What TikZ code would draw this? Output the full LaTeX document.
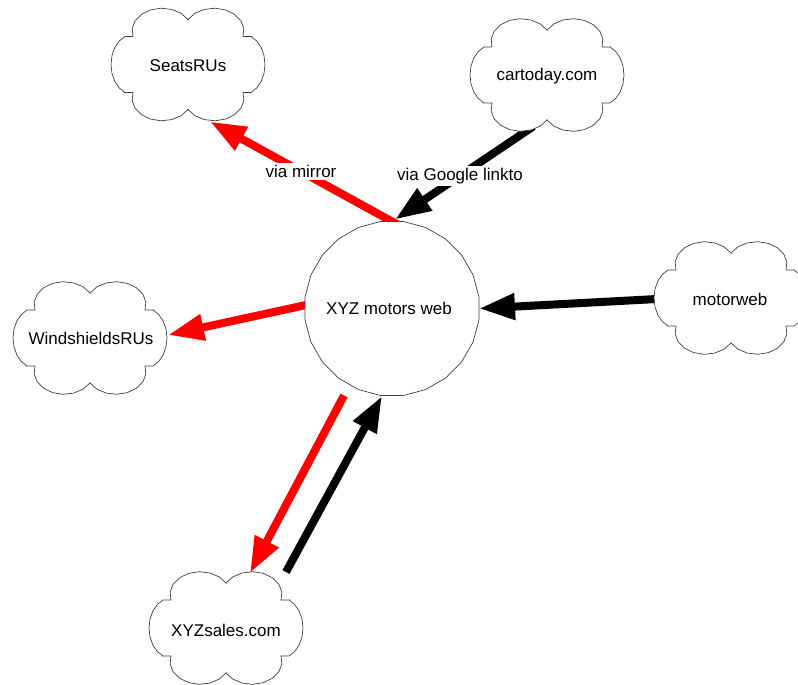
\documentclass[tikz,border=0pt]{standalone}
\usepackage{fontspec}
\setmainfont{Liberation Sans}
\usetikzlibrary{arrows.meta,calc,shapes.geometric}
\pgfdeclarelayer{background}
\pgfsetlayers{background,main}

\tikzset{
  outline/.style={draw=black!75, line width=0.7pt, fill=white},
  % cloud outline: two puffs on top and bottom, one on each side
  cloudshape/.pic={
    \path[outline]
      plot[samples=9, domain=-150.1:14.8] ({26+30*cos(\x)},{-33.8+22.5*sin(\x)})
      -- (63,-28)
      -- plot[samples=9, domain=-68.7:68.7] ({55+22*cos(\x)},{30.05*sin(\x)})
      -- (55,28)
      -- plot[samples=9, domain=-14.8:150.1] ({26+30*cos(\x)},{33.8+22.5*sin(\x)})
      -- plot[samples=9, domain=29.9:194.8] ({-26+30*cos(\x)},{33.8+22.5*sin(\x)})
      -- (-63,28)
      -- plot[samples=9, domain=111.3:248.7] ({-55+22*cos(\x)},{30.05*sin(\x)})
      -- (-55,-28)
      -- plot[samples=9, domain=165.2:330.1] ({-26+30*cos(\x)},{-33.8+22.5*sin(\x)})
      -- cycle;
  },
  txt/.style={font=\fontsize{17}{20}\selectfont, inner sep=0pt},
  hub/.style={regular polygon, regular polygon sides=24, minimum size=175.5pt,
    inner sep=0pt, outline},
  link/.style={line width=8pt, -{Triangle[length=36pt,width=25pt]}},
  redlink/.style={link, draw=red, fill=red},
  blacklink/.style={link, draw=black, fill=black},
  tag/.style={font=\fontsize{17}{20}\selectfont, fill=white, inner sep=2pt},
}

\begin{document}
\begin{tikzpicture}[x=1pt, y=-1pt]
  \useasboundingbox (0,0) rectangle (798,685);

  % positions of the sites
  \coordinate (seatsC) at (188,64.5);
  \coordinate (cartC)  at (547,75);
  \coordinate (windC)  at (90,338);
  \coordinate (motorC) at (731,298);
  \coordinate (salesC) at (226,628);

  % clouds with their names
  \pic at (seatsC) {cloudshape};
  \node[txt] (seats) at ($(seatsC)+(0,1.5)$) {SeatsRUs};
  \pic at (cartC) {cloudshape};
  \node[txt] (cart) at ($(cartC)+(0,1)$) {cartoday.com};
  \pic at (windC) {cloudshape};
  \node[txt] (wind) at ($(windC)+(1,0.5)$) {WindshieldsRUs};
  \pic at (motorC) {cloudshape};
  \node[txt] (motor) at ($(motorC)+(-1,1.5)$) {motorweb};
  \pic at (salesC) {cloudshape};
  \node[txt] (sales) at ($(salesC)+(0,2)$) {XYZsales.com};

  % central site
  \node[hub] (xyz) at (392,308.5) {};
  \node[txt] (xyzlabel) at ($(xyz)+(-3,0)$) {XYZ motors web};

  % links run underneath the shapes
  \begin{pgfonlayer}{background}
    \draw[redlink, shorten <=-10pt] ($(xyz)+(0,-87)$) -- ($(seats)+(22,55.5)$)
      node[tag, pos=0.5] {via mirror};
    \draw[blacklink, shorten <=-10pt] ($(cart)+(-22,56)$) -- ($(xyz)+(3,-89)$)
      node[tag, pos=0.5] {via Google linkto};
    \draw[redlink, shorten <=-10pt] ($(xyz)+(-86,-3.5)$) -- ($(wind)+(77,-3.5)$);
    \draw[blacklink, shorten <=-10pt] ($(motor)+(-73,-0.5)$) -- ($(xyz)+(87,0)$);
    \draw[redlink] ($(xyz)+(-48,87)$) -- ($(sales)+(24,-57)$);
    \draw[blacklink] ($(sales)+(60,-58)$) -- ($(xyz)+(-10,87.5)$);
  \end{pgfonlayer}
\end{tikzpicture}
\end{document}
